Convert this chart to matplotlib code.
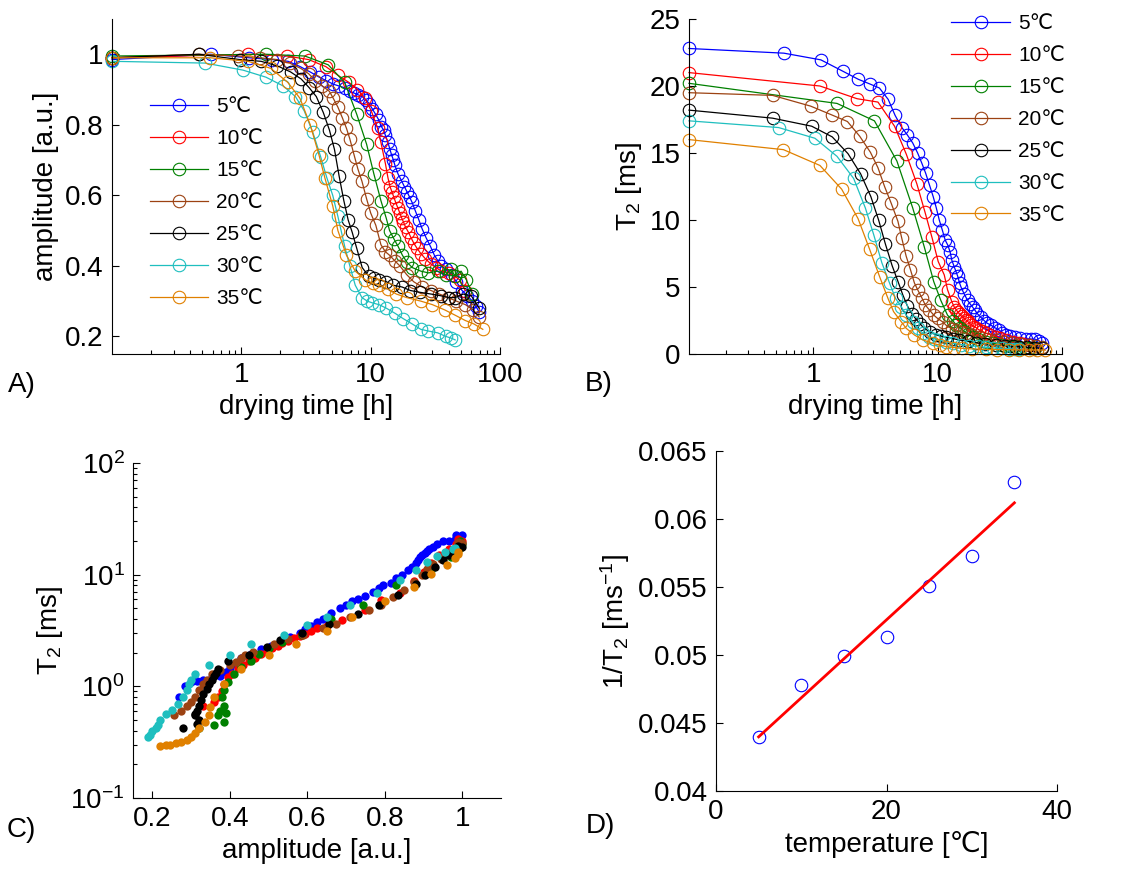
import numpy as np
import matplotlib
matplotlib.use('Agg')
import matplotlib.pyplot as plt
from matplotlib.ticker import LogLocator, NullFormatter, FuncFormatter

plt.rcParams['font.family'] = ['Liberation Sans', 'DejaVu Sans']
plt.rcParams['mathtext.fontset'] = 'custom'
plt.rcParams['mathtext.rm'] = 'Liberation Sans'
plt.rcParams['mathtext.it'] = 'Liberation Sans:italic'

# drying temperature of each run
temps = [5, 10, 15, 20, 25, 30, 35]

# 5 C
time_5 = [0.1, 0.58, 1.15, 1.73, 2.3, 2.85, 3.4, 4.0, 4.55, 5.15, 5.7, 6.3, 6.9, 7.45, 8.0, 8.6, 9.2, 9.75,
          10.3, 10.9, 11.5, 12.1, 12.6, 13.0, 13.6, 14.1, 14.5, 15.0, 15.4, 16.3, 17.4, 18.2, 19.1, 20.0,
          20.9, 22.2, 23.6, 25.0, 26.8, 29.0, 31.1, 33.0, 35.2, 38.5, 42.2, 46.0, 50.9, 56.0, 61.2, 65.0, 69.0]
amp_5 = [0.985, 1.0, 0.99, 0.985, 0.98, 0.965, 0.95, 0.935, 0.925, 0.915, 0.91, 0.905, 0.895, 0.89, 0.885,
         0.88, 0.87, 0.86, 0.845, 0.83, 0.815, 0.795, 0.785, 0.77, 0.75, 0.73, 0.715, 0.70, 0.685, 0.66,
         0.64, 0.625, 0.61, 0.595, 0.58, 0.555, 0.53, 0.505, 0.48, 0.455, 0.43, 0.415, 0.40, 0.39, 0.375,
         0.355, 0.33, 0.315, 0.30, 0.285, 0.27]
t2_5 = [22.8, 22.45, 21.95, 21.1, 20.5, 20.15, 19.85, 19.0, 17.8, 16.9, 16.35, 15.75, 15.0, 14.25, 13.5,
        12.6, 11.75, 10.9, 10.0, 9.25, 8.5, 8.1, 7.6, 7.0, 6.5, 6.1, 5.8, 5.3, 5.0, 4.5, 4.0, 3.75, 3.5,
        3.25, 3.0, 2.75, 2.5, 2.3, 2.15, 1.95, 1.8, 1.6, 1.45, 1.35, 1.25, 1.2, 1.15, 1.12, 1.1, 1.0, 0.8]

# 10 C
time_10 = [0.1, 1.13, 2.25, 3.31, 4.5, 5.6, 6.8, 7.9, 9.0, 10.1, 11.3, 12.0, 13.0, 13.6, 14.1, 14.6, 15.1,
           15.6, 16.2, 16.8, 17.4, 17.9, 18.6, 19.6, 20.5, 21.5, 22.8, 24.4, 26.5, 29.3, 32.0, 35.2, 40.0,
           44.9, 49.0, 53.9]
amp_10 = [0.99, 1.0, 0.995, 0.985, 0.965, 0.94, 0.92, 0.9, 0.875, 0.84, 0.79, 0.75, 0.69, 0.65, 0.625,
          0.61, 0.595, 0.58, 0.565, 0.55, 0.535, 0.525, 0.51, 0.495, 0.48, 0.465, 0.45, 0.435, 0.42, 0.405,
          0.395, 0.385, 0.38, 0.37, 0.36, 0.33]
t2_10 = [21.0, 20.0, 19.05, 18.8, 17.0, 14.9, 12.7, 10.6, 8.7, 6.9, 5.9, 4.8, 3.9, 3.5, 3.3, 3.1, 2.95,
         2.8, 2.7, 2.55, 2.45, 2.3, 2.2, 2.05, 1.95, 1.8, 1.7, 1.55, 1.45, 1.3, 1.2, 1.05, 0.9, 0.8, 0.72, 0.67]

# 15 C
time_15 = [0.1, 1.55, 3.1, 4.7, 6.3, 7.8, 9.3, 10.6, 12.0, 13.2, 14.0, 15.2, 16.3, 17.6, 19.1, 21.0, 24.4,
           28.0, 33.0, 38.0, 42.0, 45.0, 50.0, 55.0, 61.0]
amp_15 = [0.995, 1.0, 0.995, 0.97, 0.92, 0.83, 0.745, 0.66, 0.585, 0.535, 0.5, 0.475, 0.455, 0.43, 0.41,
          0.395, 0.385, 0.38, 0.385, 0.375, 0.39, 0.37, 0.385, 0.36, 0.32]
t2_15 = [20.2, 18.7, 17.4, 14.4, 10.9, 8.0, 5.4, 4.0, 2.9, 2.5, 2.2, 1.95, 1.7, 1.5, 1.3, 1.1, 0.92, 0.8,
         0.67, 0.6, 0.58, 0.55, 0.48, 0.45, 0.42]

# 20 C
time_20 = [0.1, 0.47, 0.95, 1.40, 1.88, 2.36, 2.88, 3.31, 3.74, 4.23, 4.79, 5.14, 5.58, 6.04, 6.5, 6.9, 7.5,
           7.96, 8.56, 9.3, 10.0, 10.96, 12.0, 13.0, 14.0, 15.3, 16.8, 19.0, 21.5, 25.0, 29.3, 34.0, 39.8,
           46.0, 54.0, 62.0, 69.0]
amp_20 = [0.99, 1.0, 0.995, 0.99, 0.985, 0.975, 0.96, 0.945, 0.925, 0.91, 0.895, 0.875, 0.85, 0.82, 0.79,
          0.76, 0.71, 0.675, 0.64, 0.59, 0.55, 0.515, 0.46, 0.44, 0.43, 0.415, 0.40, 0.375, 0.355, 0.34,
          0.33, 0.32, 0.31, 0.30, 0.29, 0.275, 0.255]
t2_20 = [19.5, 19.3, 18.5, 17.85, 17.35, 16.25, 15.05, 13.9, 12.5, 11.25, 9.9, 8.65, 7.3, 6.3, 5.3, 4.8,
         4.15, 3.65, 3.3, 2.9, 2.65, 2.4, 2.05, 1.9, 1.8, 1.65, 1.55, 1.4, 1.3, 1.15, 1.05, 0.92, 0.8, 0.72,
         0.67, 0.6, 0.55]

# 25 C
time_25 = [0.1, 0.47, 0.97, 1.42, 1.9, 2.4, 2.9, 3.35, 3.8, 4.3, 4.8, 5.25, 5.7, 6.2, 6.7, 7.2, 7.8, 8.6,
           9.7, 10.7, 11.7, 13.2, 14.9, 17.5, 20.3, 24.0, 29.3, 35.0, 40.0, 44.9, 52.0, 60.0, 69.0]
amp_25 = [0.99, 1.0, 0.985, 0.98, 0.967, 0.95, 0.93, 0.905, 0.88, 0.835, 0.785, 0.73, 0.655, 0.585, 0.53,
          0.495, 0.45, 0.395, 0.37, 0.365, 0.36, 0.355, 0.345, 0.34, 0.33, 0.325, 0.32, 0.315, 0.31, 0.31,
          0.32, 0.315, 0.28]
t2_25 = [18.2, 17.6, 17.0, 16.2, 14.95, 13.45, 11.75, 10.0, 8.2, 6.6, 5.4, 4.4, 3.6, 3.0, 2.6, 2.25, 1.92,
         1.67, 1.42, 1.33, 1.25, 1.15, 1.05, 0.95, 0.85, 0.76, 0.67, 0.6, 0.57, 0.55, 0.5, 0.46, 0.42]

# 30 C
time_30 = [0.1, 0.525, 1.03, 1.55, 2.11, 2.62, 3.06, 3.56, 4.1, 4.58, 5.09, 5.58, 6.3, 6.9, 7.6, 8.56, 9.4,
           10.3, 11.6, 13.2, 15.5, 17.9, 21.0, 24.4, 28.0, 33.0, 38.0, 42.0, 45.0]
amp_30 = [0.98, 0.975, 0.955, 0.935, 0.91, 0.88, 0.84, 0.78, 0.71, 0.65, 0.6, 0.54, 0.455, 0.40, 0.345,
          0.31, 0.3, 0.295, 0.29, 0.28, 0.265, 0.25, 0.235, 0.22, 0.215, 0.21, 0.2, 0.195, 0.19]
t2_30 = [17.4, 16.9, 16.1, 14.75, 13.1, 10.9, 8.9, 6.8, 5.3, 4.15, 3.54, 2.9, 2.4, 1.92, 1.55, 1.3, 1.15,
         1.05, 0.92, 0.8, 0.7, 0.62, 0.56, 0.5, 0.45, 0.42, 0.4, 0.37, 0.35]

# 35 C
time_35 = [0.1, 0.575, 1.13, 1.69, 2.29, 2.84, 3.41, 3.98, 4.42, 5.09, 5.58, 6.5, 7.6, 9.1, 10.5, 11.7,
           13.5, 15.8, 19.0, 24.4, 30.0, 37.4, 45.0, 53.9, 63.0, 73.6]
amp_35 = [0.99, 0.99, 0.98, 0.96, 0.92, 0.875, 0.8, 0.715, 0.65, 0.57, 0.5, 0.43, 0.385, 0.36, 0.35, 0.345,
          0.335, 0.32, 0.31, 0.30, 0.29, 0.275, 0.26, 0.245, 0.235, 0.22]
t2_35 = [16.0, 15.25, 14.07, 12.3, 10.1, 7.8, 5.78, 4.16, 3.16, 2.41, 1.92, 1.42, 1.05, 0.8, 0.65, 0.55,
         0.48, 0.42, 0.38, 0.35, 0.33, 0.32, 0.31, 0.3, 0.3, 0.29]

# 1/T2 plateau values vs temperature (panel D)
inv_t2 = [0.0440, 0.0478, 0.0499, 0.0513, 0.0551, 0.0573, 0.0627]

runs = [(time_5, amp_5, t2_5), (time_10, amp_10, t2_10), (time_15, amp_15, t2_15),
        (time_20, amp_20, t2_20), (time_25, amp_25, t2_25), (time_30, amp_30, t2_30),
        (time_35, amp_35, t2_35)]
colors = ['#0000ff', '#ff0000', '#008000', '#9c4212', '#000000', '#1fbfbf', '#e08000']
labels = ['%d℃' % t for t in temps]


def style(ax):
    ax.spines['top'].set_visible(False)
    ax.spines['right'].set_visible(False)
    for s in ['left', 'bottom']:
        ax.spines[s].set_linewidth(0.8)
    ax.tick_params(which='both', direction='in', labelsize=20, width=0.8)
    ax.tick_params(which='major', length=5, pad=6)
    ax.tick_params(which='minor', length=3)


def log_time_axis(ax):
    ax.set_xscale('log')
    ax.set_xlim(0.1, 100)
    ax.set_xticks([1, 10, 100])
    ax.set_xticklabels(['1', '10', '100'])
    ax.xaxis.set_minor_locator(LogLocator(base=10, subs=np.arange(2, 10)))
    ax.xaxis.set_minor_formatter(NullFormatter())
    ax.set_xlabel('drying time [h]', fontsize=20)


fig = plt.figure(figsize=(11.47, 8.77), dpi=100)
W, H = 1147.0, 877.0

# ---- A) amplitude vs drying time
axA = fig.add_axes([112 / W, 1 - 354 / H, 388 / W, 335 / H])
for (t, a, r), c, lab in zip(runs, colors, labels):
    axA.plot(t, a, '-o', color=c, mfc='none', mec=c, ms=9, mew=0.8, lw=0.9, label=lab, clip_on=False)
log_time_axis(axA)
axA.set_ylim(0.15, 1.1)
axA.set_yticks([0.2, 0.4, 0.6, 0.8, 1.0])
axA.yaxis.set_major_formatter(FuncFormatter(lambda v, p: '%g' % v))
axA.set_ylabel('amplitude [a.u.]', fontsize=20)
style(axA)
axA.legend(frameon=False, fontsize=15, loc='center left', bbox_to_anchor=(0.076, 0.452),
           borderaxespad=0, handlelength=2.8, handletextpad=0.4, labelspacing=0.62)

# ---- B) T2 vs drying time
axB = fig.add_axes([689 / W, 1 - 354 / H, 373 / W, 335 / H])
for (t, a, r), c, lab in zip(runs, colors, labels):
    axB.plot(t, r, '-o', color=c, mfc='none', mec=c, ms=9, mew=0.8, lw=0.9, label=lab, clip_on=False)
log_time_axis(axB)
axB.set_ylim(0, 25)
axB.set_yticks([0, 5, 10, 15, 20, 25])
axB.set_ylabel('T$_{\\mathdefault{2}}$ [ms]', fontsize=20)
style(axB)
axB.legend(frameon=False, fontsize=15, loc='center left', bbox_to_anchor=(0.681, 0.70),
           borderaxespad=0, handlelength=2.8, handletextpad=0.4, labelspacing=0.62)

# ---- C) T2 vs amplitude
axC = fig.add_axes([133 / W, 1 - 798 / H, 368 / W, 335 / H])
for (t, a, r), c in zip(runs, colors):
    axC.plot(a, r, 'o', color=c, mec='none', ms=6, clip_on=False)
axC.set_yscale('log')
axC.set_ylim(0.1, 100)
axC.set_xlim(0.15, 1.1)
axC.set_xticks([0.2, 0.4, 0.6, 0.8, 1.0])
axC.xaxis.set_major_formatter(FuncFormatter(lambda v, p: '%g' % v))
axC.yaxis.set_minor_locator(LogLocator(base=10, subs=np.arange(2, 10)))
axC.yaxis.set_minor_formatter(NullFormatter())
axC.set_xlabel('amplitude [a.u.]', fontsize=20)
axC.set_ylabel('T$_{\\mathdefault{2}}$ [ms]', fontsize=20)
style(axC)

# ---- D) 1/T2 vs temperature with linear fit
axD = fig.add_axes([716 / W, 1 - 791 / H, 341 / W, 340 / H])
axD.plot(temps, inv_t2, 'o', mfc='none', mec='#0000ff', ms=9, mew=0.8, clip_on=False)
coef = np.polyfit(temps, inv_t2, 1)
fit_x = np.array([min(temps), max(temps)])
axD.plot(fit_x, np.polyval(coef, fit_x), '-', color='#ff0000', lw=2)
axD.set_xlim(0, 40)
axD.set_ylim(0.04, 0.065)
axD.set_xticks([0, 20, 40])
axD.set_yticks([0.04, 0.045, 0.05, 0.055, 0.06, 0.065])
axD.yaxis.set_major_formatter(FuncFormatter(lambda v, p: '%g' % round(v, 4)))
axD.set_xlabel('temperature [℃]', fontsize=20)
axD.set_ylabel('1/T$_{\\mathdefault{2}}$ [ms$^{\\mathdefault{-1}}$]', fontsize=20)
style(axD)

# panel letters
fig.text(8 / W, 1 - 385 / H, 'A)', fontsize=20, va='center')
fig.text(585 / W, 1 - 384 / H, 'B)', fontsize=20, va='center')
fig.text(7 / W, 1 - 830 / H, 'C)', fontsize=20, va='center')
fig.text(586 / W, 1 - 826 / H, 'D)', fontsize=20, va='center')

fig.savefig('out.png', dpi=100)
